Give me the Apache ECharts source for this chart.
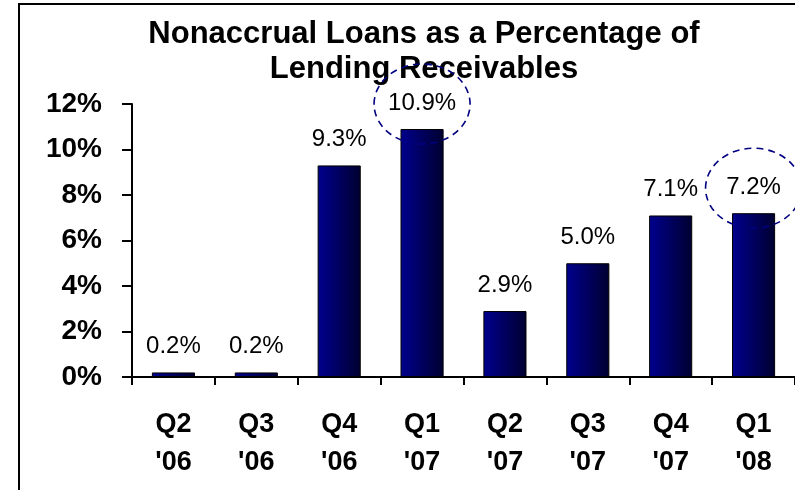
<!DOCTYPE html>
<html>
<head>
<meta charset="utf-8">
<style>
  html, body { margin: 0; padding: 0; background: #fff; }
  #chart { width: 795px; height: 490px; }
</style>
<script src="https://cdn.jsdelivr.net/npm/echarts@6/dist/echarts.min.js"></script>
</head>
<body>
<div id="chart"></div>
<script>
// Quarterly nonaccrual loans (% of lending receivables)
const categories = ["Q2\n'06", "Q3\n'06", "Q4\n'06", "Q1\n'07", "Q2\n'07", "Q3\n'07", "Q4\n'07", "Q1\n'08"];
const nonaccrualPct = [0.2, 0.2, 9.3, 10.9, 2.9, 5.0, 7.1, 7.2];
const yTicks = [0, 2, 4, 6, 8, 10, 12];
// Quarters whose labels get a dashed ring
const circled = ["Q1\n'07", "Q1\n'08"];

const FONT = "'Liberation Sans', Arial, Helvetica, sans-serif";
const chart = echarts.init(document.getElementById('chart'));

const option = {
  backgroundColor: '#ffffff',
  animation: false,
  title: {
    text: 'Nonaccrual Loans as a Percentage of\nLending Receivables',
    left: 424,
    top: 17,
    padding: 0,
    textAlign: 'center',
    textStyle: {
      fontFamily: FONT,
      fontWeight: 'bold',
      fontSize: 31,
      lineHeight: 35,
      color: '#000'
    }
  },
  grid: { left: 132, top: 104, width: 665, height: 273, containLabel: false },
  xAxis: {
    type: 'category',
    data: categories,
    boundaryGap: true,
    axisLine: { lineStyle: { color: '#000', width: 2 } },
    axisTick: { show: true, length: 8, lineStyle: { color: '#000', width: 2 } },
    axisLabel: {
      margin: 29,
      fontFamily: FONT,
      fontWeight: 'bold',
      fontSize: 27,
      lineHeight: 38,
      color: '#000'
    }
  },
  yAxis: {
    type: 'value',
    min: yTicks[0],
    max: yTicks[yTicks.length - 1],
    interval: yTicks[1] - yTicks[0],
    splitLine: { show: false },
    axisLine: { show: true, lineStyle: { color: '#000', width: 2 } },
    axisTick: { show: true, length: 10, lineStyle: { color: '#000', width: 2 } },
    axisLabel: {
      margin: 30,
      formatter: '{value}%',
      fontFamily: FONT,
      fontWeight: 'bold',
      fontSize: 28,
      color: '#000'
    }
  },
  series: [{
    type: 'bar',
    data: nonaccrualPct,
    barWidth: '52%',
    itemStyle: {
      color: new echarts.graphic.LinearGradient(0, 0, 1, 0, [
        { offset: 0, color: '#00008E' },
        { offset: 1, color: '#000030' }
      ]),
      borderColor: '#000',
      borderWidth: 1
    },
    label: {
      show: true,
      position: 'top',
      distance: 14,
      formatter: p => p.value.toFixed(1) + '%',
      fontFamily: FONT,
      fontSize: 24,
      color: '#000'
    }
  }]
};

chart.setOption(option);

// Outer frame and dashed rings around the highlighted value labels
const graphics = [{
  type: 'rect',
  silent: true,
  z: 0,
  shape: { x: 19, y: 4, width: 800, height: 520 },
  style: { fill: null, stroke: '#000', lineWidth: 2 }
}];
circled.forEach(cat => {
  const idx = categories.indexOf(cat);
  const pt = chart.convertToPixel({ gridIndex: 0 }, [cat, nonaccrualPct[idx]]);
  graphics.push({
    type: 'ellipse',
    silent: true,
    z: 10,
    shape: { cx: pt[0], cy: pt[1] - 25, rx: 48, ry: 40 },
    style: { fill: null, stroke: '#000080', lineWidth: 1.6, lineDash: [7, 5] }
  });
});
chart.setOption({ graphic: graphics });
</script>
</body>
</html>
